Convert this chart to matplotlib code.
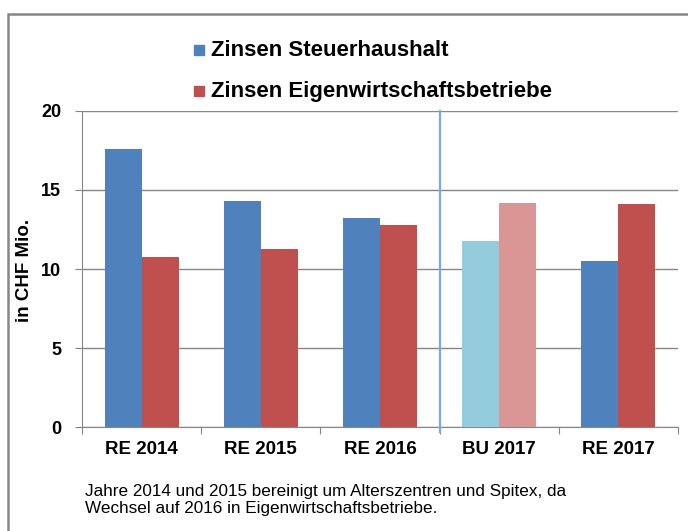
import numpy as np
import matplotlib.pyplot as plt
from matplotlib.patches import Rectangle

categories = ['RE 2014', 'RE 2015', 'RE 2016', 'BU 2017', 'RE 2017']
steuerhaushalt = [17.56, 14.3, 13.2, 11.77, 10.52]
eigenwirtschaft = [10.78, 11.26, 12.76, 14.19, 14.09]

blue = '#4F81BD'
red = '#C0504D'
blue_colors = [blue, blue, blue, '#93CDDD', blue]
red_colors = [red, red, red, '#D99694', red]

plt.rcParams['font.family'] = ['Liberation Sans', 'DejaVu Sans']

fig = plt.figure(figsize=(6.88, 5.31), dpi=100)

# outer frame of the chart object
fig.patches.append(Rectangle((8 / 688, -0.05), 1.0, (531 - 14) / 531 + 0.05,
                             transform=fig.transFigure, fill=False,
                             edgecolor='#868686', lw=1.8))

ax = fig.add_axes([82 / 688, (531 - 427.3) / 531, 596 / 688, 316.6 / 531])

x = np.arange(len(categories))
w = 0.31
ax.bar(x - w / 2, steuerhaushalt, w, color=blue_colors, zorder=3)
ax.bar(x + w / 2, eigenwirtschaft, w, color=red_colors, zorder=3)

ax.set_xlim(-0.5, len(categories) - 0.5)
ax.set_ylim(0, 20)
ax.set_yticks([0, 5, 10, 15, 20])
ax.yaxis.grid(True, color='#868686', lw=1.0, zorder=0)

# category boundaries as major ticks, labels on minor ticks
ax.set_xticks(np.arange(-0.5, len(categories), 1.0))
ax.set_xticklabels([])
ax.set_xticks(x, minor=True)
ax.set_xticklabels(categories, minor=True, fontsize=13.5, fontweight='bold')
ax.tick_params(axis='x', which='major', length=5, color='#868686', direction='out')
ax.tick_params(axis='x', which='minor', length=0, pad=10)
ax.tick_params(axis='y', length=5, color='#868686', labelsize=13, pad=10)
for lbl in ax.get_yticklabels():
    lbl.set_fontweight('bold')

for s in ['top', 'right']:
    ax.spines[s].set_visible(False)
for s in ['left', 'bottom']:
    ax.spines[s].set_color('#868686')

# separator between actuals and budget
ax.axvline(2.5, ymin=-0.015, color='#7EA6E0', lw=1.6, zorder=4, clip_on=False)

ax.set_ylabel('in CHF Mio.', fontsize=13.5, fontweight='bold')
ax.yaxis.set_label_coords((33 - 82) / 596, (427.3 - 270) / 316.6)

# legend drawn as text lines at the top
leg_items = [('Zinsen Steuerhaushalt', blue), ('Zinsen Eigenwirtschaftsbetriebe', red)]
for i, (name, col) in enumerate(leg_items):
    yy = (531 - 50 - 41 * i) / 531
    fig.patches.append(Rectangle((194 / 688, yy - 5 / 531), 10 / 688, 10 / 531,
                                 transform=fig.transFigure, color=col))
    fig.text(211 / 688, yy, name, fontsize=16, fontweight='bold',
             va='center', ha='left')

fig.text(85 / 688, (531 - 500) / 531,
         'Jahre 2014 und 2015 bereinigt um Alterszentren und Spitex, da\n'
         'Wechsel auf 2016 in Eigenwirtschaftsbetriebe.',
         fontsize=12.3, va='center', ha='left', linespacing=1.2)

fig.savefig('out.png', dpi=100)
